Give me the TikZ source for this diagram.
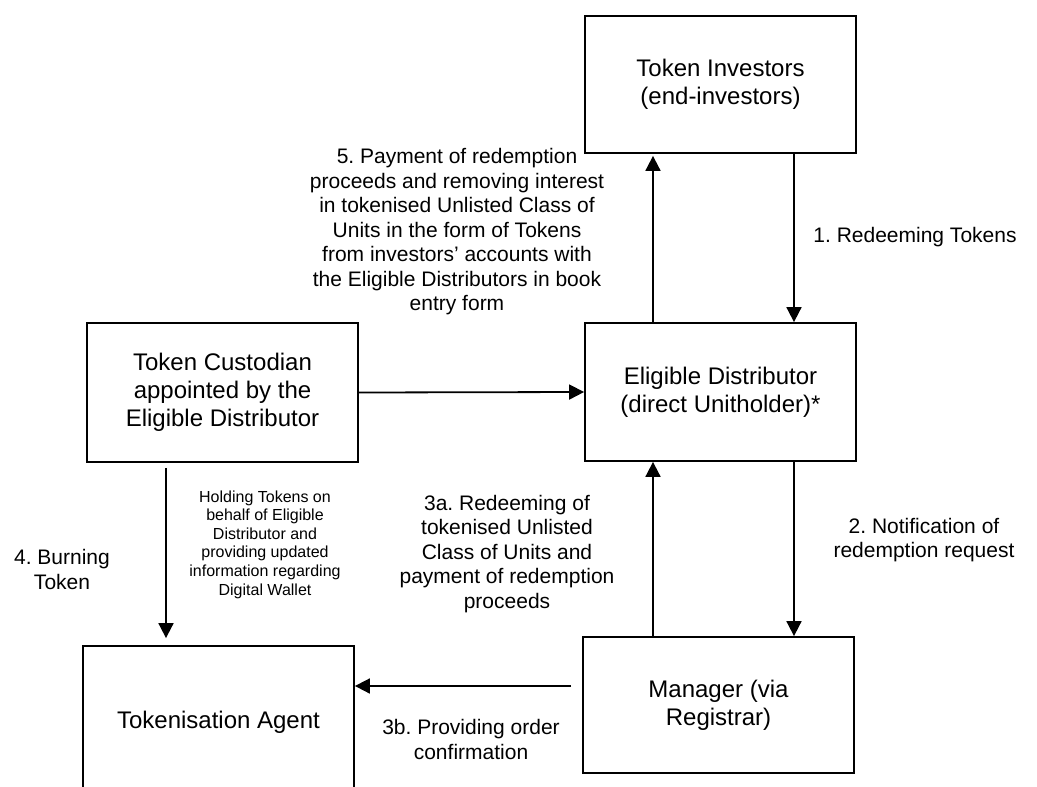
\documentclass[tikz,border=0pt]{standalone}
\usepackage{fontspec}
\setmainfont{Liberation Sans}
\frenchspacing
\usetikzlibrary{arrows.meta}
\tikzset{
  box/.style={draw=black, line width=1.8pt, minimum width=271pt, inner sep=0pt, align=center,
    font=\fontsize{24}{28}\selectfont},
  lbl/.style={inner sep=0pt, align=center, font=\fontsize{21}{24.5}\selectfont},
  small/.style={inner sep=0pt, align=center, font=\fontsize{16}{18.6}\selectfont},
  arr/.style={line width=1.8pt, -{Triangle[length=15pt,width=15pt]}}
}
\begin{document}
\begin{tikzpicture}[x=1pt,y=-1pt]
\useasboundingbox (0,0) rectangle (1037,787);
\clip (0,0) rectangle (1037,787);
% boxes
\node[box, minimum height=137pt] (inv) at (720.5,84.5) {Token Investors\\(end-investors)};
\node[box, minimum height=138pt] (ed) at (720.5,392) {Eligible Distributor\\(direct Unitholder)*};
\node[box, minimum height=139pt] (cust) at (222.5,392.5) {Token Custodian\\appointed by the\\Eligible Distributor};
\node[box, minimum height=136pt] (mgr) at (718.5,705) {Manager (via\\Registrar)};
\node[box, minimum height=152pt] (ta) at (218.5,722) {Tokenisation Agent};
% helper coordinates
\coordinate (xa) at (653,0);
\coordinate (xb) at (794,0);
\coordinate (xc) at (166,0);
\coordinate (yd) at (0,686);
% connectors
\draw[arr, shorten >=2pt] (xa |- ed.north) -- (xa |- inv.south);
\draw[arr] (xb |- inv.south) -- (xb |- ed.north);
\draw[arr] (cust.east) -- (ed.west);
\draw[arr] (xa |- mgr.north) -- (xa |- ed.south);
\draw[arr] (xb |- ed.south) -- (xb |- mgr.north);
\draw[arr, shorten <=5pt, shorten >=7pt] (xc |- cust.south) -- (xc |- ta.north);
\draw[arr, shorten <=11pt] (mgr.west |- yd) -- (ta.east |- yd);
% labels
\node[lbl] (l5) at (457,232) {5. Payment of redemption\\proceeds and removing interest\\in tokenised Unlisted Class of\\Units in the form of Tokens\\from investors’ accounts with\\the Eligible Distributors in book\\entry form};
\node[lbl] (l1) at (915,237) {1. Redeeming Tokens};
\node[small] (lh) at (265,544.5) {Holding Tokens on\\behalf of Eligible\\Distributor and\\providing updated\\information regarding\\Digital Wallet};
\node[lbl] (l4) at (62,569.5) {4. Burning\\Token};
\node[lbl] (l3a) at (507,554) {3a. Redeeming of\\tokenised Unlisted\\Class of Units and\\payment of redemption\\proceeds};
\node[lbl] (l2) at (924,540) {2. Notification of\\redemption request};
\node[lbl] (l3b) at (471,739.5) {3b. Providing order\\confirmation};
\end{tikzpicture}
\end{document}
